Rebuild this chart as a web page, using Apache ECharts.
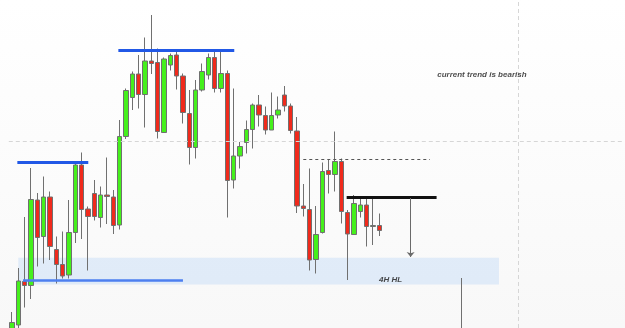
<!DOCTYPE html>
<html>
<head>
<meta charset="utf-8">
<script src="https://cdn.jsdelivr.net/npm/echarts@6/dist/echarts.min.js"></script>
<style>
  html, body { margin: 0; padding: 0; background: #fff; }
  #chart { width: 625px; height: 328px; }
</style>
</head>
<body>
<div id="chart"></div>
<script>
// candle values (price units, 0 = bottom edge)
const opens  = [-6, 3, 46.5, 42.5, 128, 91.5, 131, 78.5, 63.5, 53, 95.5, 163, 119, 134.5, 110.5, 133, 131, 103, 191.5, 230.5,
  254, 233.5, 267, 265.5, 195.5, 263, 273, 252, 214.5, 180.5, 238, 253, 270.5, 239.5, 254.5, 148, 172, 185.5, 198.5, 223,
  212.5, 198, 213, 233, 222, 197, 122, 118.5, 68.5, 95.5, 157.5, 153.5, 166.5, 115.5, 93.5, 116.5, 123, 101.5, 102.5]
const closes = [5.5, 47, 42.5, 128.5, 90.5, 131, 81.5, 63.5, 52, 95.5, 163, 118.5, 111.5, 111.5, 133, 131.5, 102.5, 191.5, 237.5, 254,
  233.5, 267, 264.5, 196.5, 269, 272.5, 252, 215.5, 180.5, 238, 256.5, 270.5, 239.5, 254.5, 147.5, 172, 181.5, 198.5, 223, 213,
  198, 212.5, 218, 222, 197.5, 122, 119.5, 68, 93.5, 156.5, 153.5, 166.5, 116.5, 94, 124.5, 123, 101.5, 102.5, 97.5]
const lows   = [-8, -3, 20.5, 29, 61.5, 64.5, 68, 44.5, 49.5, 49.5, 85, 89, 57.5, 107.5, 100.5, 104, 94, 98.5, 189, 218,
  219.5, 200.5, 254, 189.5, 195.5, 257.5, 238.5, 204.5, 163.5, 169.5, 236.5, 248.5, 235.5, 235.5, 110.5, 139.5, 159.5, 174.5, 179.5, 201.5,
  193.5, 198, 209.5, 216.5, 194.5, 115, 111.5, 57.5, 54.5, 94.5, 134.5, 136.5, 104.5, 48, 93, 110.5, 81.5, 83, 92]
const highs  = [16, 60, 111, 160, 135, 151.5, 136.5, 91.5, 96.5, 128, 166.5, 175.5, 121.5, 148, 141.5, 170.5, 138, 208, 239.5, 256.5,
  273, 290.5, 313, 279.5, 270.5, 274.5, 278, 254.5, 238, 248, 264.5, 274.5, 278, 278, 257.5, 239.5, 186, 207.5, 224.5, 233,
  221.5, 235.5, 231.5, 242, 224.5, 211, 144, 159.5, 122, 165.5, 168.5, 196.5, 169.5, 118, 133, 131.5, 129.5, 130, 114.5]

const slotCount = 97
const categories = []
for (let i = 0; i < slotCount; i++) categories.push(String(i + 1))

// drawn levels (x in candle index, y in price)
const blueTop = [16.8, 35.1, 278]
const blueLeft = [0.85, 12.05, 165.5]
const blueLow = [1.75, 27.0, 48]
const zone = [1.0, 76.9, 70.3, 43.5]
const blackLevel = [52.85, 67.05, 130.3]
const dashLevel = [46.0, 66.0, 168.7]
const arrowLine = [62.95, 130, 71]
const greyLine = [71.0, 50, 0]
const gridLineY = 187
const gridLineX = 79.9
const notes = [
  { name: 'current trend is bearish', value: [74.2, 253] },
  { name: '4H HL', value: [59.8, 48] }
]

const candles = opens.map((o, i) => [o, closes[i], lows[i], highs[i]])

const chart = echarts.init(document.getElementById('chart'))
const option = {
  animation: false,
  backgroundColor: {
    type: 'linear', x: 0, y: 0, x2: 0, y2: 1,
    colorStops: [{ offset: 0, color: '#ffffff' }, { offset: 1, color: '#f8f8f8' }]
  },
  grid: { left: 8.8, right: 1.9, top: 0, bottom: 0 },
  xAxis: [{
    type: 'category',
    data: categories,
    show: false
  }, {
    type: 'value',
    min: -0.5,
    max: slotCount - 0.5,
    show: false
  }],
  yAxis: {
    type: 'value',
    min: 0,
    max: 328,
    show: false
  },
  series: [{
    type: 'line',
    xAxisIndex: 1,
    data: [],
    z: 1,
    silent: true,
    markArea: {
      silent: true,
      itemStyle: { color: 'rgba(200,222,247,0.5)' },
      data: [[{ coord: [zone[0], zone[2]] }, { coord: [zone[1], zone[3]] }]]
    },
    markLine: {
      silent: true,
      symbol: 'none',
      label: { show: false },
      lineStyle: { color: '#d6d6d6', width: 1, type: [4, 3] },
      data: [
        [{ coord: [-0.5, gridLineY] }, { coord: [slotCount - 0.5, gridLineY] }],
        [{ coord: [gridLineX, 0] }, { coord: [gridLineX, 328] }]
      ]
    }
  }, {
    type: 'candlestick',
    data: candles,
    barWidth: 5,
    z: 3,
    itemStyle: {
      color: '#45f01c',
      color0: '#f02a1c',
      borderColor: '#707070',
      borderColor0: '#707070',
      borderColorDoji: '#707070',
      borderWidth: 1
    }
  }, {
    type: 'line',
    xAxisIndex: 1,
    data: [],
    z: 5,
    silent: true,
    markLine: {
      silent: true,
      symbol: 'none',
      label: { show: false },
      data: [
        [{ coord: [blueTop[0], blueTop[2]], lineStyle: { color: '#2158e6', width: 3, type: 'solid' } }, { coord: [blueTop[1], blueTop[2]] }],
        [{ coord: [blueLeft[0], blueLeft[2]], lineStyle: { color: '#2158e6', width: 3, type: 'solid' } }, { coord: [blueLeft[1], blueLeft[2]] }],
        [{ coord: [blueLow[0], blueLow[2]], lineStyle: { color: '#4d7ff0', width: 2.5, type: 'solid' } }, { coord: [blueLow[1], blueLow[2]] }],
        [{ coord: [blackLevel[0], blackLevel[2]], lineStyle: { color: '#111111', width: 3, type: 'solid' } }, { coord: [blackLevel[1], blackLevel[2]] }],
        [{ coord: [dashLevel[0], dashLevel[2]], lineStyle: { color: '#555555', width: 1, type: [3, 3] } }, { coord: [dashLevel[1], dashLevel[2]] }],
        [{ coord: [arrowLine[0], arrowLine[1]], lineStyle: { color: '#6a6a6a', width: 1, type: 'solid' } },
         { coord: [arrowLine[0], arrowLine[2]], symbol: 'arrow', symbolSize: [6, 5] }],
        [{ coord: [greyLine[0], greyLine[1]], lineStyle: { color: '#707070', width: 1, type: 'solid' } }, { coord: [greyLine[0], greyLine[2]] }]
      ]
    }
  }, {
    type: 'scatter',
    xAxisIndex: 1,
    z: 6,
    silent: true,
    symbolSize: 1,
    itemStyle: { color: 'rgba(0,0,0,0)' },
    label: {
      show: true,
      position: 'inside',
      formatter: p => p.name,
      color: '#1a1a1a',
      fontFamily: 'Liberation Sans',
      fontStyle: 'italic',
      fontWeight: 'bold',
      fontSize: 8
    },
    data: notes
  }]
}
chart.setOption(option)
</script>
</body>
</html>
